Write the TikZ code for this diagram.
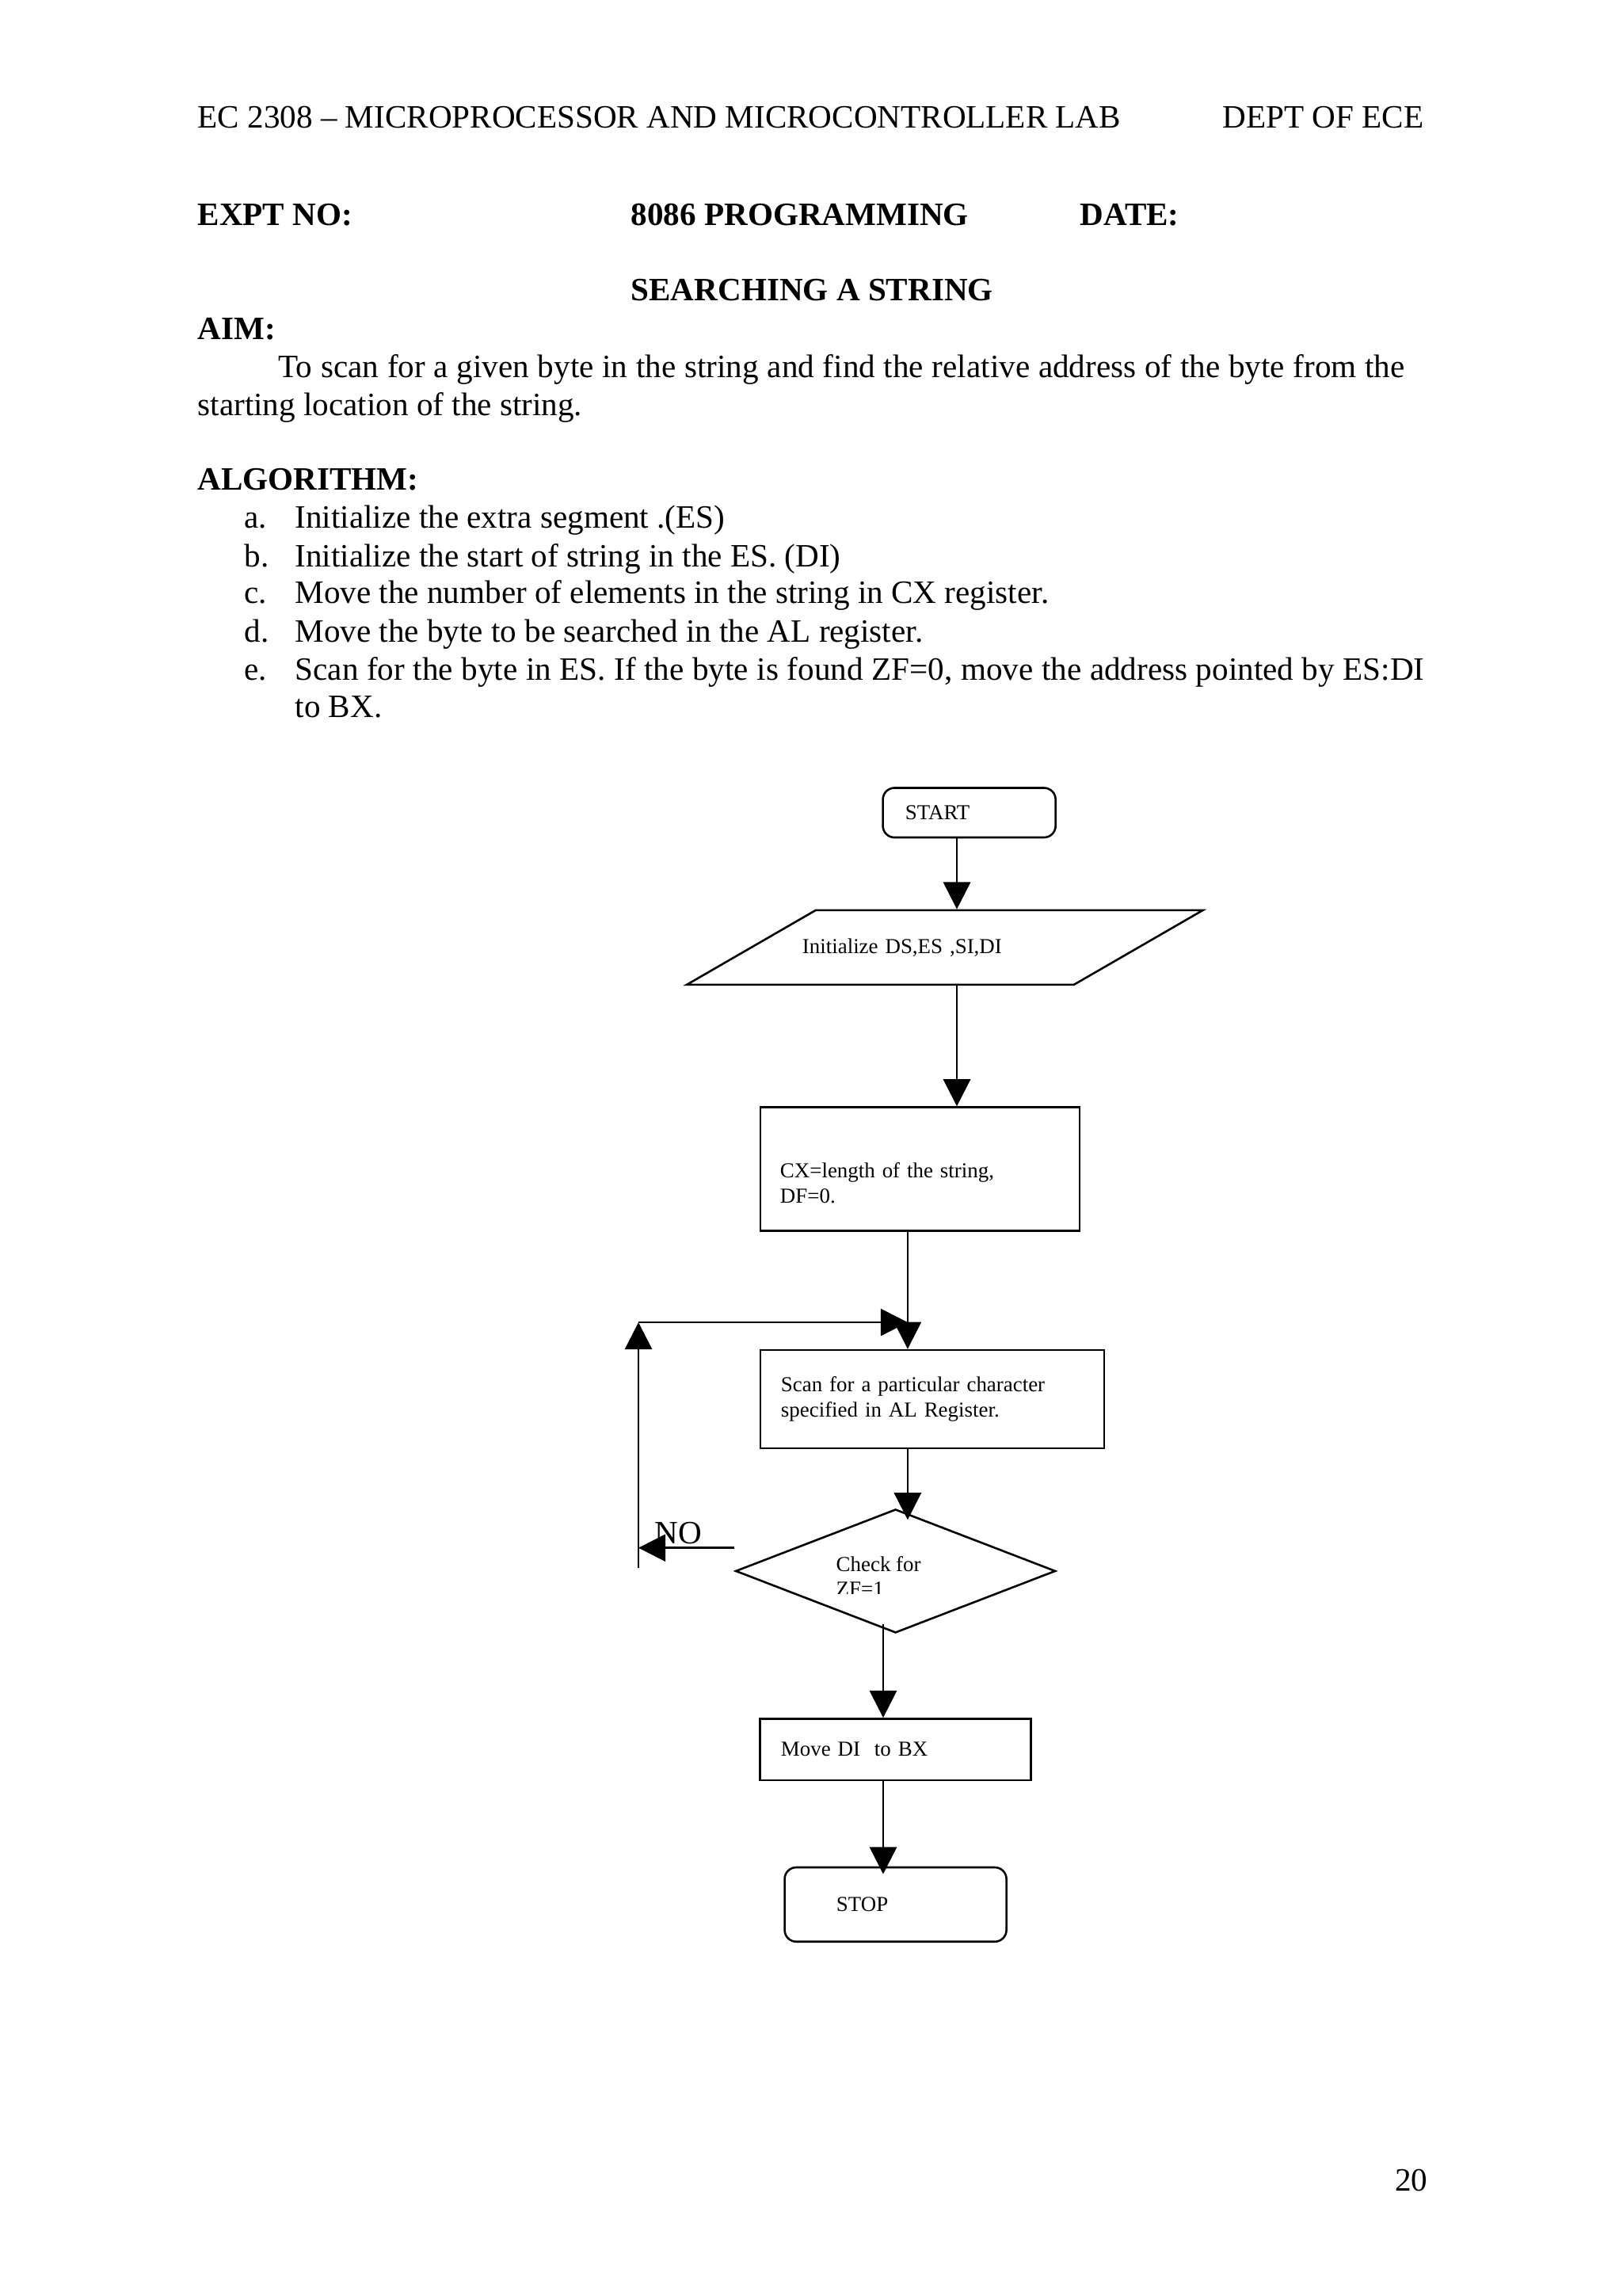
\documentclass[tikz,border=0pt]{standalone}
\usepackage{fontspec}
\setmainfont{Liberation Serif}
\usetikzlibrary{arrows.meta, positioning, shapes.geometric}

\begin{document}
\begin{tikzpicture}[on grid, >={Triangle[length=3.5mm,width=3.5mm]},
      every node/.style={inner sep=0pt},
      pagetext/.style={anchor=base west, font=\fontsize{12}{13.9}\selectfont},
      headtext/.style={anchor=base west, font=\fontsize{12}{13.9}\selectfont\bfseries},
      procbox/.style={draw, line width=0.75pt, align=left, font=\fontsize{7.85}{9.2}\selectfont},
      termbox/.style={procbox, rounded corners=1.5mm},
      iobox/.style={draw, line width=0.75pt, trapezium, trapezium left angle=30,
        trapezium right angle=150, align=left, font=\fontsize{7.85}{9.2}\selectfont},
      decbox/.style={draw, line width=0.75pt, diamond},
      flowline/.style={->, line width=0.75pt}]
  \useasboundingbox (0,0) rectangle (21,-29.716);

  % page heading
  \node[pagetext] (course) at (2.553,-1.661) {EC 2308 -- MICROPROCESSOR AND MICROCONTROLLER LAB};
  \node[pagetext] (dept) at (15.822,-1.661) {DEPT OF ECE};
  \node[headtext] (exptno) at (2.553,-2.922) {EXPT NO:};
  \node[headtext] (prog) at (8.162,-2.922) {8086 PROGRAMMING};
  \node[headtext] (date) at (13.976,-2.922) {DATE:};
  \node[headtext] (title) at (8.162,-3.896) {SEARCHING A STRING};

  % aim and algorithm
  \node[headtext] (aim) at (2.553,-4.389) {AIM:};
  \node[pagetext] (aimA) at (3.599,-4.891) {\makebox[14.58cm][s]{To scan for a given byte in the string and find the relative address of the byte from the}};
  \node[pagetext] (aimB) at (2.553,-5.383) {starting location of the string.};
  \node[headtext] (algo) at (2.553,-6.347) {ALGORITHM:};
  \node[pagetext] (itemA) at (3.158,-6.839) {a.};
  \node[pagetext] (stepA) at (3.814,-6.839) {Initialize the extra segment .(ES)};
  \node[pagetext] (itemB) at (3.158,-7.332) {b.};
  \node[pagetext] (stepB) at (3.814,-7.332) {Initialize the start of string in the ES. (DI)};
  \node[pagetext] (itemC) at (3.158,-7.813) {c.};
  \node[pagetext] (stepC) at (3.814,-7.813) {Move the number of elements in the string in CX register.};
  \node[pagetext] (itemD) at (3.158,-8.306) {d.};
  \node[pagetext] (stepD) at (3.814,-8.306) {Move the byte to be searched in the AL register.};
  \node[pagetext] (itemE) at (3.158,-8.798) {e.};
  \node[pagetext] (stepE) at (3.814,-8.798) {\makebox[14.62cm][s]{Scan for the byte in ES. If the byte is found ZF=0, move the address pointed by ES:DI}};
  \node[pagetext] (stepEb) at (3.814,-9.290) {to BX.};

  % flowchart
  \node[termbox, text width=1.654cm, inner xsep=2.91mm, minimum height=0.641cm] (start) at (12.547,-10.518) {START};
  \node[iobox, text width=3.686cm, inner xsep=-1.72mm, text height=0.19cm, text depth=0.03cm, inner ysep=3.72mm] (init) [below left=1.745cm and 0.317cm of start] {Initialize DS,ES ,SI,DI};
  \node[procbox, text width=3.620cm, inner xsep=2.56mm, minimum height=1.600cm] (cx) [below left=2.868cm and 0.320cm of init] {\strut\\CX=length of the string,\\DF=0.};
  \node[procbox, text width=3.916cm, inner xsep=2.67mm, minimum height=1.271cm] (scan) [below right=2.977cm and 0.158cm of cx] {Scan for a particular character\\specified in AL Register.};
  \node[decbox, minimum width=4.143cm, minimum height=1.600cm] (check) [below left=2.225cm and 0.475cm of scan] {};
  \node[procbox, text width=2.967cm, inner xsep=2.7mm, minimum height=0.797cm] (move) [below=2.310cm of check] {Move DI\ \ to BX};
  \node[termbox, text width=1.531cm, inner xsep=6.7mm, minimum height=0.961cm] (stop) [below=2.006cm of move] {STOP};

  \begin{scope}
    \clip (8,-19) rectangle (14,-20.63);
    \node[align=left, anchor=west, font=\fontsize{7.85}{9.2}\selectfont] (checktext) at ([xshift=-7.75mm,yshift=-0.65mm]check.center) {Check for\\ZF=1};
  \end{scope}

  \coordinate (topline) at ([xshift=-1.6mm]start.south);
  \coordinate (midline) at ([xshift=-1.6mm]cx.south);
  \coordinate (lowline) at ([xshift=-1.6mm]check.south);
  \coordinate (noout) at ([yshift=3mm]check.west);
  \coordinate (loopbot) at (8.265,-20.293);
  \coordinate (looptop) at (8.265,-17.114);

  \draw[flowline] (topline) -- (init.north -| topline);
  \draw[flowline] (init.south -| topline) -- (cx.north -| topline);
  \draw[flowline] (midline) -- (scan.north -| midline);
  \draw[flowline, shorten >=-1.5mm] (scan.south -| midline) -- (check.north -| midline);
  \draw[flowline, shorten <=-1.3mm] (lowline) -- (move.north -| lowline);
  \draw[flowline, shorten >=-1mm] (move.south -| lowline) -- (stop.north -| lowline);

  % NO branch back to the scan
  \draw[flowline] (noout) -- (noout -| loopbot);
  \draw[flowline] (loopbot) -- (looptop);
  \draw[flowline] (looptop) -- (looptop -| midline);
  \node[pagetext] (no) at (8.470,-19.975) {NO};

  \node[pagetext] (pageno) at (18.054,-28.352) {20};
\end{tikzpicture}
\end{document}
